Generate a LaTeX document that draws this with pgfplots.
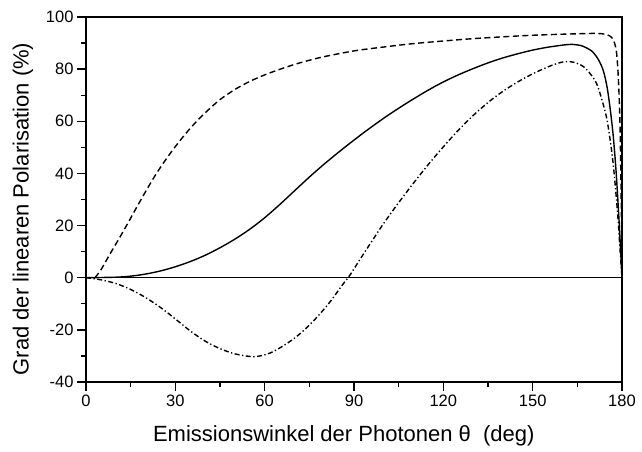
\documentclass[border=0pt]{standalone}
\usepackage{pgfplots}
\pgfplotsset{compat=1.18}
\usepackage{fontspec}
\setmainfont{Liberation Sans}

\begin{document}
\begin{tikzpicture}
\begin{axis}[
    scale only axis,
    width=536pt, height=365pt,
    xmin=0, xmax=180, ymin=-40, ymax=100,
    xtick={0,30,...,180}, ytick={-40,-20,...,100},
    minor x tick num=1, minor y tick num=1,
    tick align=outside,
    xtick pos=left, ytick pos=left,
    major tick length=9pt, minor tick length=5pt,
    axis line style={line width=1.6pt},
    every tick/.style={black, line width=1.4pt},
    ticklabel style={font=\fontsize{16.5}{19}\selectfont},
    /pgf/number format/assume math mode=true,
    xlabel={Emissionswinkel der Photonen θ\ \ (deg)},
    ylabel={Grad der linearen Polarisation (\%)},
    label style={font=\fontsize{22}{26}\selectfont},
    xlabel style={at={(axis description cs:0.481,-0.147)}, anchor=center},
    ylabel style={at={(axis description cs:-0.1175,0.474)}, anchor=center},
]
% zero line
\addplot[black, line width=0.9pt] coordinates {(0,0) (180,0)};

% dashed
\addplot[black, line width=1.4pt, smooth, tension=0.5, dash pattern=on 6pt off 3.5pt] coordinates {
 (3,0) (5,3) (8,9) (11,14.8) (14,20.8) (17,27) (20,33) (23,38.8) (26,44)
 (29,48.8) (32,53.2) (35,57.3) (38,61) (41,64.3) (45,68.3) (50,72.2)
 (55,75.3) (60,77.8) (65,79.9) (70,81.8) (75,83.4) (80,84.8) (90,87)
 (100,88.5) (110,89.8) (120,90.8) (130,91.7) (140,92.4) (150,93)
 (160,93.4) (170,93.7) (173,93.6) (175,93.2) (176.5,92.2) (177.5,90)
 (178.2,86) (178.8,76) (179.3,60) (179.6,40) (179.85,20) (180,0)
};

% solid
\addplot[black, line width=1.4pt, smooth, tension=0.5] coordinates {
 (0,0) (10,0.2) (15,0.6) (20,1.4) (25,2.6) (30,4.2) (35,6.2) (40,8.6)
 (45,11.5) (50,14.8) (55,18.6) (60,23) (65,28) (70,33.3) (75,38.6)
 (80,43.6) (85,48.3) (90,52.8) (95,57.1) (100,61.2) (105,65) (110,68.6)
 (115,72) (120,75.1) (125,77.8) (130,80.2) (135,82.4) (140,84.3)
 (145,85.9) (150,87.3) (155,88.4) (160,89.2) (163,89.5) (166,89.1)
 (168,88.2) (170,86.8) (172,83.8) (173.7,79.5) (175,73) (176,65) (177,55)
 (178,41) (179,22) (180,0)
};

% dash-dot
\addplot[black, line width=1.4pt, smooth, tension=0.5, dash pattern=on 5pt off 2.5pt on 1.3pt off 2.5pt] coordinates {
 (0,0) (5,-0.8) (10,-2.2) (15,-4.5) (20,-7.6) (25,-11.4) (30,-15.8)
 (35,-20.4) (40,-24.3) (45,-27.2) (50,-29.2) (55,-30.2) (58,-30.1)
 (62,-28.8) (66,-26.3) (70,-23.2) (74,-19.3) (78,-14.6) (82,-9.2)
 (86,-2.9) (88.4,0.6) (92,7) (96,14) (100,20.9) (105,28.8) (110,36.3)
 (115,43.5) (120,50.2) (125,56.5) (130,62.2) (135,67.2) (140,71.5)
 (145,75.1) (150,78.2) (155,80.8) (158,82.1) (161,82.9) (164,82.6)
 (167,81) (169.5,78) (171.5,74.4) (173.2,68.5) (174.8,61.5) (176,53)
 (177.1,43) (178.5,25) (179.5,8) (180,0)
};
\end{axis}
\pgfresetboundingbox
\path (-86pt,-69pt) rectangle (556pt,382pt);
\end{tikzpicture}
\end{document}
